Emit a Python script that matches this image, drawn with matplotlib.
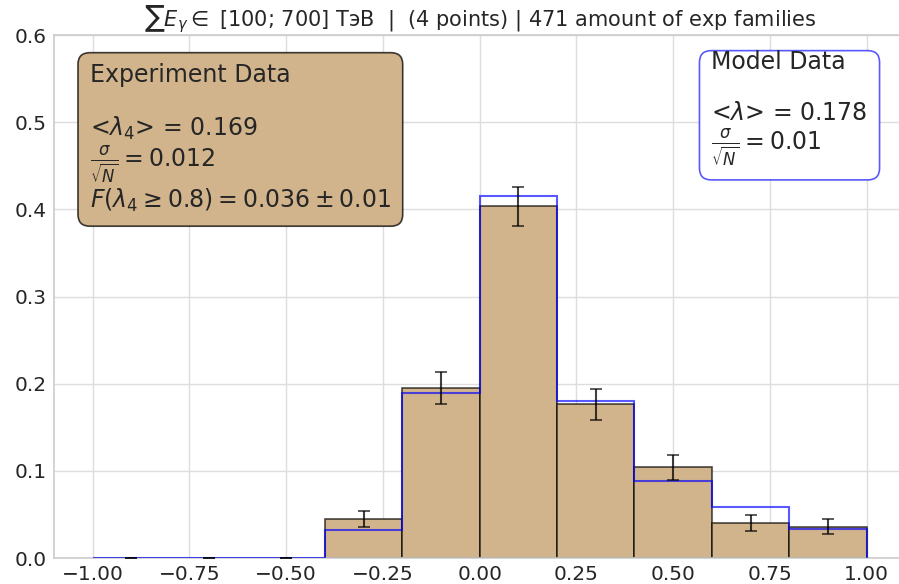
import numpy as np
import matplotlib
matplotlib.use("Agg")
import matplotlib.pyplot as plt

# гистограмма λ4: эксперимент (доли семейств) и модель
bin_edges = [-1.0, -0.8, -0.6, -0.4, -0.2, 0.0, 0.2, 0.4, 0.6, 0.8, 1.0]
exp_frac = [0.0, 0.0, 0.0, 0.0446, 0.1953, 0.4034, 0.1762, 0.1040, 0.0403, 0.0361]
model_frac = [0.0, 0.0, 0.0, 0.0324, 0.1890, 0.4150, 0.1805, 0.0889, 0.0580, 0.0336]
n_families = 471

exp_text = ("Experiment Data\n\n<$\\lambda_4$> = 0.169\n"
            "$\\frac{\\sigma}{\\sqrt{N}} = 0.012$\n"
            "$F(\\lambda_4 \\geq 0.8) = 0.036 \\pm 0.01$")
model_text = ("Model Data\n\n<$\\lambda$> = 0.178\n"
              "$\\frac{\\sigma}{\\sqrt{N}} = 0.01$")
title = "$\\sum E_\\gamma \\in$ [100; 700] ТэВ  |  (4 points) | 471 amount of exp families"

edges = np.array(bin_edges)
centers = (edges[:-1] + edges[1:]) / 2
widths = np.diff(edges)
p = np.array(exp_frac)
err = np.sqrt(p * (1 - p) / n_families)

fig = plt.figure(figsize=(8.99, 5.84), dpi=100)
ax = fig.add_axes([0.0601, 0.0445, 0.947, 0.8955])

ax.bar(centers, exp_frac, width=widths, align="center", color="tan",
       edgecolor=(0, 0, 0, 0.7), linewidth=1.2, zorder=2)
ax.stairs(model_frac, edges, color="blue", alpha=0.65, linewidth=1.5, zorder=3)
ax.errorbar(centers, exp_frac, yerr=err, fmt="none", ecolor="black",
            alpha=0.75, capsize=4, elinewidth=1.5, capthick=1.2, zorder=4)

ax.set_xlim(-1.1, 1.1)
ax.set_ylim(0, 0.6)
ax.set_xticks([-1.0, -0.75, -0.5, -0.25, 0.0, 0.25, 0.5, 0.75, 1.0])
ax.set_yticks([0.0, 0.1, 0.2, 0.3, 0.4, 0.5, 0.6])
ax.grid(True, color="#dddddd", linewidth=1.0, zorder=0)
ax.set_axisbelow(True)
for s in ax.spines.values():
    s.set_color("#cccccc")
    s.set_linewidth(1.2)
ax.spines["right"].set_visible(False)
ax.tick_params(labelsize=14.5, length=0, pad=5, colors="#262626")
ax.set_title(title, fontsize=15, color="#262626", pad=5)

ax.text(0.042, 0.946, exp_text, transform=ax.transAxes, fontsize=17,
        va="top", ha="left", color="#262626", linespacing=1.1,
        bbox=dict(boxstyle="round,pad=0.5", facecolor="tan",
                  edgecolor=(0, 0, 0, 0.75), linewidth=1.2))
ax.text(0.772, 0.972, model_text, transform=ax.transAxes, fontsize=17,
        va="top", ha="left", color="#262626", linespacing=1.1,
        bbox=dict(boxstyle="round,pad=0.5", facecolor="white",
                  edgecolor=(0, 0, 1, 0.65), linewidth=1.2))

fig.savefig("out.png", dpi=100)
